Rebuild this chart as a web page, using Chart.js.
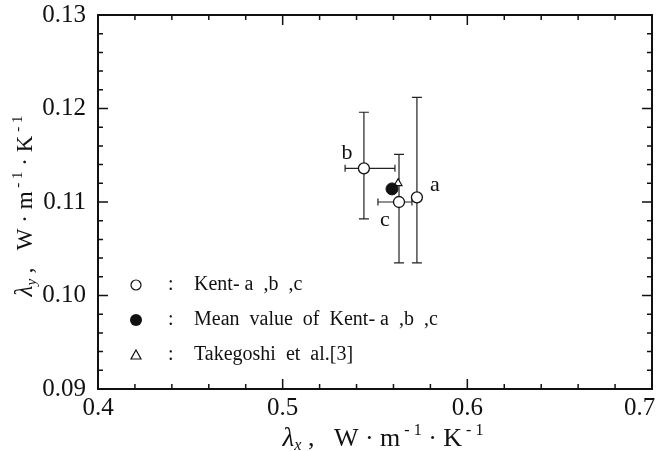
<!DOCTYPE html>
<html>
<head>
<meta charset="utf-8">
<script src="https://cdn.jsdelivr.net/npm/chart.js@4"></script>
<style>
  html,body{margin:0;padding:0;background:#fff;}
  #wrap{width:660px;height:451px;}
</style>
</head>
<body>
<div id="wrap"><canvas id="c" width="660" height="451"></canvas></div>
<script>
// ---- data ----
const kentLabels = ['a', 'b', 'c'];
const kentX      = [0.5727, 0.5440, 0.5630];
const kentY      = [0.1105, 0.1136, 0.1100];
const kentXLow   = [null,   0.5338, 0.5516];
const kentXHigh  = [null,   0.5608, 0.5700];
const kentYLow   = [0.1035, 0.1082, 0.1035];
const kentYHigh  = [0.1212, 0.1196, 0.1151];
const meanX      = [0.5592];
const meanY      = [0.1114];
const takeX      = [0.5625];
const takeY      = [0.1120];
const xTickValues = [0.4, 0.5, 0.6, 0.7];
const yTickValues = [0.09, 0.10, 0.11, 0.12, 0.13];
const legendTexts = ['Kent- a  ,b  ,c', 'Mean  value  of  Kent- a  ,b  ,c', 'Takegoshi  et  al.[3]'];

const SERIF = "'Liberation Serif', 'DejaVu Serif', serif";

function drawSegments(ctx, segs, x, y, align) {
  let total = 0;
  segs.forEach(s => {
    ctx.font = (s.italic ? 'italic ' : '') + s.size + 'px ' + SERIF;
    s.w = ctx.measureText(s.t).width;
    total += s.w;
  });
  let cx = align === 'center' ? x - total / 2 : x;
  ctx.textBaseline = 'alphabetic';
  ctx.textAlign = 'left';
  segs.forEach(s => {
    ctx.font = (s.italic ? 'italic ' : '') + s.size + 'px ' + SERIF;
    ctx.fillText(s.t, cx, y + (s.dy || 0));
    cx += s.w;
  });
}

const decor = {
  id: 'decor',
  beforeDatasetsDraw(chart) {
    const ctx = chart.ctx;
    const xs = chart.scales.x, ys = chart.scales.y;
    ctx.save();
    ctx.strokeStyle = '#222';
    ctx.lineWidth = 1.2;
    const cap = 5;
    for (let i = 0; i < kentX.length; i++) {
      const px = xs.getPixelForValue(kentX[i]);
      const py = ys.getPixelForValue(kentY[i]);
      if (kentYLow[i] != null) {
        const y1 = ys.getPixelForValue(kentYLow[i]);
        const y2 = ys.getPixelForValue(kentYHigh[i]);
        ctx.beginPath();
        ctx.moveTo(px, y1); ctx.lineTo(px, y2);
        ctx.moveTo(px - cap, y1); ctx.lineTo(px + cap, y1);
        ctx.moveTo(px - cap, y2); ctx.lineTo(px + cap, y2);
        ctx.stroke();
      }
      if (kentXLow[i] != null) {
        const x1 = xs.getPixelForValue(kentXLow[i]);
        const x2 = xs.getPixelForValue(kentXHigh[i]);
        ctx.beginPath();
        ctx.moveTo(x1, py); ctx.lineTo(x2, py);
        ctx.moveTo(x1, py - 3.5); ctx.lineTo(x1, py + 3.5);
        ctx.moveTo(x2, py - 3.5); ctx.lineTo(x2, py + 3.5);
        ctx.stroke();
      }
    }
    ctx.restore();
  },
  afterDatasetsDraw(chart) {
    const ctx = chart.ctx;
    const a = chart.chartArea;
    const xs = chart.scales.x, ys = chart.scales.y;
    ctx.save();
    ctx.strokeStyle = '#111';
    ctx.lineWidth = 2;
    ctx.strokeRect(a.left, a.top, a.right - a.left, a.bottom - a.top);
    ctx.lineWidth = 1.5;
    ctx.beginPath();
    for (let k = 0; k <= 15; k++) {
      const v = 0.4 + k * 0.02;
      const px = xs.getPixelForValue(v);
      const len = (k % 5 === 0) ? 10 : 5;
      ctx.moveTo(px, a.bottom); ctx.lineTo(px, a.bottom - len);
      ctx.moveTo(px, a.top); ctx.lineTo(px, a.top + len);
    }
    for (let k = 0; k <= 20; k++) {
      const v = 0.09 + k * 0.002;
      const py = ys.getPixelForValue(v);
      const len = (k % 5 === 0) ? 10 : 5;
      ctx.moveTo(a.left, py); ctx.lineTo(a.left + len, py);
      ctx.moveTo(a.right, py); ctx.lineTo(a.right - len, py);
    }
    ctx.stroke();

    ctx.fillStyle = '#111';
    ctx.font = '22px ' + SERIF;
    ctx.textAlign = 'center';
    ctx.textBaseline = 'middle';
    const offs = [[18, -12], [-17, -15], [-14, 18]];
    for (let i = 0; i < kentX.length; i++) {
      const px = xs.getPixelForValue(kentX[i]);
      const py = ys.getPixelForValue(kentY[i]);
      ctx.fillText(kentLabels[i], px + offs[i][0], py + offs[i][1]);
    }

    const lx = a.left + 38, rows = [a.top + 270, a.top + 305, a.top + 340];
    ctx.strokeStyle = '#111';
    ctx.lineWidth = 1.2;
    ctx.beginPath(); ctx.arc(lx, rows[0], 5, 0, Math.PI * 2);
    ctx.fillStyle = '#fff'; ctx.fill(); ctx.stroke();
    ctx.beginPath(); ctx.arc(lx, rows[1], 6, 0, Math.PI * 2);
    ctx.fillStyle = '#111'; ctx.fill();
    ctx.beginPath();
    ctx.moveTo(lx, rows[2] - 5); ctx.lineTo(lx + 5, rows[2] + 4); ctx.lineTo(lx - 5, rows[2] + 4); ctx.closePath();
    ctx.stroke();
    ctx.fillStyle = '#111';
    ctx.font = '20px ' + SERIF;
    ctx.textAlign = 'left';
    ctx.textBaseline = 'middle';
    rows.forEach((ry, i) => {
      ctx.fillText(':', lx + 32, ry);
      ctx.fillText(legendTexts[i], lx + 58, ry);
    });

    ctx.fillStyle = '#111';
    const segsX = [
      {t: 'λ', size: 27, italic: true},
      {t: 'x', size: 16, italic: true, dy: 4},
      {t: ' ,   W · m', size: 26},
      {t: ' - 1', size: 16, dy: -11},
      {t: ' · K', size: 26},
      {t: ' - 1', size: 16, dy: -11}
    ];
    drawSegments(ctx, segsX, 383, 446, 'center');
    const segsY = [
      {t: 'λ', size: 25, italic: true},
      {t: 'y', size: 15, italic: true, dy: 4},
      {t: ' ,   W · m', size: 23},
      {t: ' - 1', size: 15, dy: -10},
      {t: ' · K', size: 23},
      {t: ' - 1', size: 15, dy: -10}
    ];
    ctx.save();
    ctx.translate(32, 206);
    ctx.rotate(-Math.PI / 2);
    drawSegments(ctx, segsY, 0, 0, 'center');
    ctx.restore();
    ctx.restore();
  }
};

const chart = new Chart(document.getElementById('c'), {
  type: 'scatter',
  data: {
    datasets: [
      {
        label: 'Mean value of Kent- a ,b ,c',
        data: meanX.map((x, i) => ({x, y: meanY[i]})),
        pointStyle: 'circle', pointRadius: 6,
        backgroundColor: '#111', borderColor: '#111', borderWidth: 1
      },
      {
        label: 'Kent- a ,b ,c',
        data: kentX.map((x, i) => ({x, y: kentY[i]})),
        pointStyle: 'circle', pointRadius: 5.5,
        backgroundColor: '#fff', borderColor: '#111', borderWidth: 1.3
      },
      {
        label: 'Takegoshi et al.[3]',
        data: takeX.map((x, i) => ({x, y: takeY[i]})),
        pointStyle: 'triangle', pointRadius: 4.5,
        backgroundColor: '#fff', borderColor: '#111', borderWidth: 1.2
      }
    ]
  },
  options: {
    responsive: false,
    animation: false,
    layout: {padding: {top: 15, right: 8, left: 0, bottom: 0}},
    plugins: {legend: {display: false}, tooltip: {enabled: false}},
    scales: {
      x: {
        type: 'linear', min: 0.4, max: 0.7,
        grid: {display: false, drawTicks: false},
        border: {display: false},
        afterBuildTicks: s => { s.ticks = xTickValues.map(v => ({value: v})); },
        ticks: {
          color: '#111', padding: 4, maxRotation: 0,
          font: {family: SERIF, size: 25},
          callback: v => Math.abs(v - 0.7) < 1e-9 ? '0.7    ' : Number(v).toFixed(1)
        },
        afterFit: s => { s.height = 62; s.paddingLeft = 0; s.paddingRight = 0; }
      },
      y: {
        type: 'linear', min: 0.09, max: 0.13,
        grid: {display: false, drawTicks: false},
        border: {display: false},
        afterBuildTicks: s => { s.ticks = yTickValues.map(v => ({value: v})); },
        ticks: {
          color: '#111', padding: 12,
          font: {family: SERIF, size: 25},
          callback: v => Number(v).toFixed(2)
        },
        afterFit: s => { s.width = 98; s.paddingTop = 0; s.paddingBottom = 0; }
      }
    }
  },
  plugins: [decor]
});
</script>
</body>
</html>
